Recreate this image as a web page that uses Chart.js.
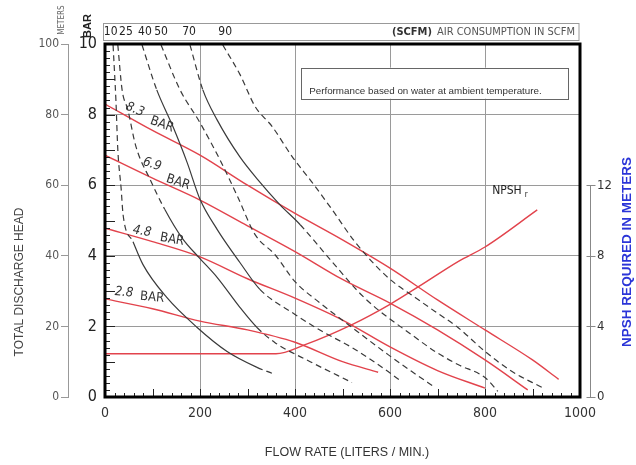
<!DOCTYPE html>
<html>
<head>
<meta charset="utf-8">
<script src="https://cdn.jsdelivr.net/npm/chart.js@4/dist/chart.umd.min.js"></script>
<style>
  html, body { margin: 0; background: #fff; }
</style>
</head>
<body>
<canvas id="chart" width="636" height="465"></canvas>
<script>
// pressure (inlet air) lines, flow in L/min, head in bar
const p83Flow = [0, 100, 200, 300, 400, 500, 600, 700, 800, 900, 955];
const p83Bar  = [8.3, 7.55, 6.85, 6.0, 5.2, 4.45, 3.65, 2.75, 1.9, 1.05, 0.5];
const p69Flow = [0, 100, 200, 300, 400, 500, 600, 700, 800, 890];
const p69Bar  = [6.85, 6.2, 5.58, 4.85, 4.12, 3.33, 2.66, 1.9, 1.05, 0.2];
const p48Flow = [0, 100, 200, 300, 400, 500, 600, 700, 800];
const p48Bar  = [4.78, 4.4, 3.97, 3.35, 2.8, 2.18, 1.42, 0.75, 0.25];
const p28Flow = [0, 100, 200, 300, 400, 500, 575];
const p28Bar  = [2.78, 2.5, 2.15, 1.9, 1.55, 1.0, 0.7];

// NPSH required, meters (right axis)
const npshFlow = [0, 360, 420, 520, 600, 660, 745, 800, 910];
const npshM    = [2.45, 2.45, 2.95, 4.1, 5.25, 6.25, 7.7, 8.5, 10.6];

// air consumption curves (SCFM)
const s10Flow = [17, 23, 27, 34, 38, 59, 80, 130, 194, 257, 320, 352];
const s10Bar  = [9.97, 8.4, 7.0, 5.9, 5.17, 4.4, 3.75, 2.82, 1.97, 1.29, 0.84, 0.67];
const s25Flow = [27, 36, 48, 65, 95, 126, 162, 198, 236, 284, 320, 358, 432, 520];
const s25Bar  = [9.97, 8.7, 8.14, 7.1, 6.16, 5.31, 4.51, 3.95, 3.39, 2.54, 1.97, 1.54, 1.0, 0.41];
const s40Flow = [78, 109, 143, 173, 200, 236, 284, 326, 400, 457, 520, 596, 621];
const s40Bar  = [9.97, 8.7, 7.66, 6.64, 5.6, 4.75, 3.81, 3.05, 2.34, 1.86, 1.4, 0.72, 0.47];
const s50Flow = [118, 158, 200, 242, 280, 316, 358, 400, 457, 520, 596, 646, 695];
const s50Bar  = [9.97, 8.7, 7.77, 6.72, 5.65, 4.6, 4.03, 3.27, 2.62, 1.97, 1.2, 0.72, 0.27];
const s70Flow = [179, 206, 236, 284, 322, 368, 411, 478, 547, 653, 695, 743, 800, 827];
const s70Bar  = [9.97, 8.7, 7.85, 6.8, 6.15, 5.45, 4.88, 3.83, 2.8, 1.69, 1.29, 0.92, 0.55, 0.16];
const s90Flow = [248, 284, 316, 352, 394, 436, 478, 526, 596, 653, 695, 743, 800, 857, 920];
const s90Bar  = [9.97, 9.14, 8.23, 7.66, 6.81, 6.08, 5.31, 4.4, 3.38, 2.82, 2.42, 1.97, 1.29, 0.72, 0.27];

// top scale labels
const scfmLabels = ['10', '25', '40', '50', '70', '90'];
const scfmLabelFlow = [12, 44, 84, 118, 177, 253];
const npshTicks = [0, 4, 8, 12];

const NARROW = '"Liberation Sans Narrow", "DejaVu Sans Condensed", "Liberation Sans", sans-serif';
const ARIAL = '"Liberation Sans", Arial, sans-serif';
const RED = '#e2434c';
const DARK = '#3a3a3a';

const pts = (xs, ys) => xs.map((x, i) => ({ x, y: ys[i] }));

function redLine(xs, ys, axis) {
  return {
    data: pts(xs, ys), yAxisID: axis || 'y',
    borderColor: RED, borderWidth: 1.4, pointRadius: 0,
    cubicInterpolationMode: 'monotone'
  };
}

// solid = [from, to] flow range drawn solid, rest dashed
function airLine(xs, ys, solid) {
  return {
    data: pts(xs, ys), yAxisID: 'y',
    borderColor: DARK, borderWidth: 1.2, pointRadius: 0,
    cubicInterpolationMode: 'monotone',
    segment: {
      borderDash: c => (solid && c.p0.parsed.x >= solid[0] && c.p1.parsed.x <= solid[1]) ? [] : [6, 4]
    }
  };
}

const deco = {
  id: 'deco',
  afterDraw(chart) {
    const ctx = chart.ctx, a = chart.chartArea;
    const xs = chart.scales.x, ys = chart.scales.y, y2 = chart.scales.y2;
    const X = v => xs.getPixelForValue(v), Y = v => ys.getPixelForValue(v);
    ctx.save();

    // minor ticks inside the frame
    ctx.strokeStyle = '#222';
    ctx.lineWidth = 1;
    ctx.beginPath();
    for (let i = 1; i < 50; i++) {
      const px = Math.round(X(i * 20)) + 0.5;
      const len = i % 5 === 0 ? 8 : 4;
      ctx.moveTo(px, a.bottom); ctx.lineTo(px, a.bottom - len);
    }
    for (let i = 1; i < 50; i++) {
      const py = Math.round(Y(i * 0.2)) + 0.5;
      const len = i % 5 === 0 ? 10 : 5;
      ctx.moveTo(a.left, py); ctx.lineTo(a.left + len, py);
    }
    ctx.stroke();

    // frame
    ctx.lineWidth = 3;
    ctx.strokeStyle = '#000';
    ctx.strokeRect(a.left, a.top, a.right - a.left, a.bottom - a.top);

    // NPSH axis line + ticks
    const nx = a.right + 10.5;
    ctx.lineWidth = 1;
    ctx.strokeStyle = '#888';
    ctx.beginPath();
    ctx.moveTo(nx, y2.getPixelForValue(0)); ctx.lineTo(nx, y2.getPixelForValue(12));
    npshTicks.forEach(v => {
      const py = Math.round(y2.getPixelForValue(v)) + 0.5;
      ctx.moveTo(nx - 4, py); ctx.lineTo(nx + 5, py);
    });
    ctx.stroke();

    // top SCFM strip
    ctx.strokeStyle = '#999';
    ctx.strokeRect(a.left - 1.5, 23.5, a.right - a.left + 0.5, 17);
    ctx.fillStyle = '#222';
    ctx.textBaseline = 'middle';
    ctx.textAlign = 'center';
    ctx.font = '12px ' + NARROW;
    scfmLabels.forEach((t, i) => ctx.fillText(t, X(scfmLabelFlow[i]), 32));
    ctx.textAlign = 'right';
    ctx.font = '11px ' + NARROW;
    ctx.fillStyle = '#555';
    const rest = 'AIR CONSUMPTION IN SCFM';
    ctx.fillText(rest, a.right - 5, 32);
    const rw = ctx.measureText(rest).width;
    ctx.font = 'bold 11px ' + NARROW;
    ctx.fillStyle = '#333';
    ctx.fillText('(SCFM)', a.right - 10 - rw, 32);

    // note box
    const bx = X(413), by = Y(9.33);
    ctx.fillStyle = '#fff';
    ctx.fillRect(bx, by, X(975) - bx, Y(8.45) - by);
    ctx.strokeStyle = '#666';
    ctx.lineWidth = 1;
    ctx.strokeRect(Math.round(bx) + 0.5, Math.round(by) + 0.5, Math.round(X(975) - bx), Math.round(Y(8.45) - by));
    ctx.fillStyle = '#333';
    ctx.textAlign = 'left';
    ctx.font = '9.8px ' + ARIAL;
    ctx.fillText('Performance based on water at ambient temperature.', bx + 8, by + 24);

    // pressure labels
    const tag = (txt, f, b, deg) => {
      ctx.save();
      ctx.translate(X(f), Y(b));
      ctx.rotate(deg * Math.PI / 180);
      ctx.textAlign = 'center';
      ctx.fillText(txt, 0, 0);
      ctx.restore();
    };
    ctx.fillStyle = '#333';
    ctx.font = 'italic 13px ' + NARROW;
    tag('8.3', 63, 8.14, 22); tag('6.9', 99, 6.59, 18); tag('4.8', 78, 4.69, 10); tag('2.8', 40, 2.96, 5);
    ctx.font = '13px ' + NARROW;
    tag('BAR', 120, 7.72, 20); tag('BAR', 154, 6.08, 18); tag('BAR', 141, 4.46, 10); tag('BAR', 99, 2.82, 5);

    // NPSHr
    ctx.font = '12px ' + NARROW;
    ctx.textAlign = 'left';
    ctx.fillStyle = '#222';
    ctx.fillText('NPSH', X(815), Y(5.83));
    const nw = ctx.measureText('NPSH').width;
    ctx.font = '8px ' + NARROW;
    ctx.fillText('r', X(815) + nw + 3, Y(5.83) + 4);

    // axis titles
    const vtext = (txt, x, y, font, color) => {
      ctx.save();
      ctx.translate(x, y);
      ctx.rotate(-Math.PI / 2);
      ctx.font = font;
      ctx.fillStyle = color;
      ctx.textAlign = 'center';
      ctx.textBaseline = 'middle';
      ctx.fillText(txt, 0, 0);
      ctx.restore();
    };
    vtext('TOTAL DISCHARGE HEAD', 20, 282, '12px ' + ARIAL, '#444');
    vtext('NPSH REQUIRED IN METERS', 627, 252, 'bold 13.5px ' + ARIAL, '#2b35d8');
    vtext('METERS', 62, 20, '8px ' + NARROW, '#666');
    vtext('BAR', 88, 26, 'bold 11px ' + ARIAL, '#222');

    ctx.font = '12.5px ' + ARIAL;
    ctx.fillStyle = '#333';
    ctx.textAlign = 'center';
    ctx.fillText('FLOW RATE (LITERS / MIN.)', 347, 453);
    ctx.restore();
  }
};

new Chart(document.getElementById('chart'), {
  type: 'line',
  data: {
    datasets: [
      airLine(s10Flow, s10Bar, [59, 320]),
      airLine(s25Flow, s25Bar, [126, 320]),
      airLine(s40Flow, s40Bar, [109, 326]),
      airLine(s50Flow, s50Bar, null),
      airLine(s70Flow, s70Bar, [206, 411]),
      airLine(s90Flow, s90Bar, null),
      redLine(p83Flow, p83Bar),
      redLine(p69Flow, p69Bar),
      redLine(p48Flow, p48Bar),
      redLine(p28Flow, p28Bar),
      redLine(npshFlow, npshM, 'y2')
    ]
  },
  options: {
    responsive: false,
    animation: false,
    layout: { padding: { left: 10, top: 44, right: 0, bottom: 0 } },
    plugins: { legend: { display: false }, tooltip: { enabled: false } },
    scales: {
      x: {
        type: 'linear', min: 0, max: 1000,
        ticks: { stepSize: 200, padding: 8, color: '#333', font: { size: 14, family: NARROW }, callback: v => String(v) },
        grid: { color: '#9a9a9a', drawTicks: false },
        border: { display: false },
        afterFit: s => { s.height = 68; }
      },
      y: {
        type: 'linear', position: 'left', min: 0, max: 10, weight: 0,
        ticks: { stepSize: 2, padding: 8, color: '#222', font: { size: 16, family: NARROW } },
        grid: { color: '#9a9a9a', drawTicks: false },
        border: { display: false },
        afterFit: s => { s.width = 37; }
      },
      ym: {
        type: 'linear', position: 'left', min: 0, max: 100, weight: 1,
        ticks: { stepSize: 20, padding: 2, color: '#555', font: { size: 12, family: NARROW } },
        grid: { drawOnChartArea: false, color: '#999', tickLength: 7 },
        border: { display: true, color: '#999' },
        afterFit: s => { s.width = 58; }
      },
      y2: {
        type: 'linear', position: 'right', min: 0, max: 20,
        afterBuildTicks: s => { s.ticks = npshTicks.map(v => ({ value: v })); },
        ticks: { padding: 17, color: '#333', font: { size: 13, family: NARROW } },
        grid: { display: false, drawTicks: false },
        border: { display: false },
        afterFit: s => { s.width = 56; }
      }
    }
  },
  plugins: [deco]
});
</script>
</body>
</html>
